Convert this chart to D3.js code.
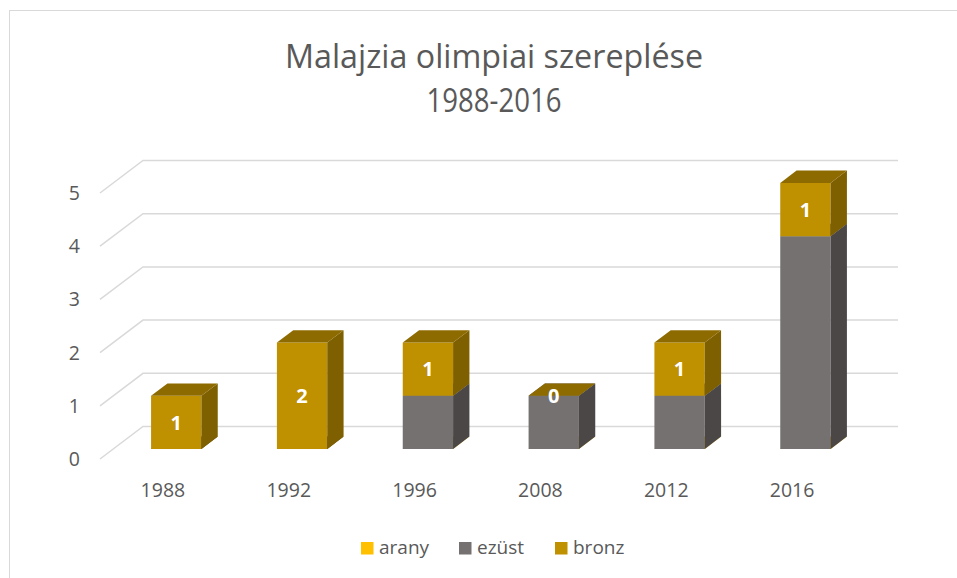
<!DOCTYPE html>
<html>
<head>
<meta charset="utf-8">
<script src="https://cdn.jsdelivr.net/npm/d3@7"></script>
<style>
  body { margin: 0; background: #fff; }
  text { font-family: "Open Sans", sans-serif; }
</style>
</head>
<body>
<svg id="chart" width="957" height="578"></svg>
<script>
// chart data
const years = ['1988', '1992', '1996', '2008', '2012', '2016'];
const seriesNames = ['arany', 'ezüst', 'bronz'];
const arany = [0, 0, 0, 0, 0, 0];
const ezust = [0, 0, 1, 1, 1, 4];
const bronz = [1, 2, 1, 0, 1, 1];
const yTicks = [0, 1, 2, 3, 4, 5];

// face colours per series: front, side, top
const faces = {
    arany: ['#FFC000', '#BF9000', '#D9A300'],
    'ezüst': ['#767171', '#4B4747', '#5C5858'],
    bronz: ['#BF9000', '#7F6000', '#8E6B00']
};

const svg = d3.select('#chart');

// outer frame
svg.append('rect')
    .attr('x', 9.5).attr('y', 10.5)
    .attr('width', 960).attr('height', 580)
    .attr('fill', 'none')
    .attr('stroke', '#d9d9d9');

// title
svg.append('text')
    .attr('x', 494).attr('y', 68)
    .attr('text-anchor', 'middle')
    .attr('font-size', 32)
    .attr('fill', '#595959')
    .attr('textLength', 418).attr('lengthAdjust', 'spacingAndGlyphs')
    .text('Malajzia olimpiai szereplése');
svg.append('text')
    .attr('x', 494).attr('y', 112)
    .attr('text-anchor', 'middle')
    .attr('font-size', 32)
    .attr('fill', '#595959')
    .attr('textLength', 135).attr('lengthAdjust', 'spacingAndGlyphs')
    .text('1988-2016');

// simple oblique projection: z goes 0 (front) -> 1 (back wall)
const DX = 43, DY = 32.5;
const x = d3.scaleBand().domain(years).range([100, 855])
    .paddingInner(0.6).paddingOuter(0.3);
const y = d3.scaleLinear().domain([0, 5]).range([459, 193]);
const proj = (px, v, z) => [px + z * DX, y(v) - z * DY];
const z0 = 0.31, z1 = 0.69;

// gridlines: floor diagonal + back wall
const grid = svg.append('g');
yTicks.forEach(v => {
    const a = proj(100, v, 0), b = proj(100, v, 1), c = proj(855, v, 1);
    grid.append('polyline')
        .attr('points', [a, b, c].map(p => p.join(',')).join(' '))
        .attr('fill', 'none')
        .attr('stroke', '#d9d9d9')
        .attr('stroke-width', 1.5);
});

// y labels
svg.append('g').selectAll('text')
    .data(yTicks)
    .enter()
    .append('text')
        .attr('x', 80)
        .attr('y', d => y(d))
        .attr('dy', '0.36em')
        .attr('text-anchor', 'end')
        .attr('font-size', 19.5)
        .attr('fill', '#595959')
        .text(d => d);

// x labels
svg.append('g').selectAll('text')
    .data(years)
    .enter()
    .append('text')
        .attr('x', d => x(d) + x.bandwidth() / 2)
        .attr('y', 497)
        .attr('text-anchor', 'middle')
        .attr('font-size', 19.5)
        .attr('fill', '#595959')
        .text(d => d);

// stacked 3D bars
const table = years.map((yr, i) => ({ year: yr, arany: arany[i], 'ezüst': ezust[i], bronz: bronz[i] }));
const stack = d3.stack().keys(seriesNames)(table);
const pts = arr => arr.map(p => p.join(',')).join(' ');

const bars = svg.append('g');
years.forEach((yr, i) => {
    const xl = x(yr), xr = x(yr) + x.bandwidth();
    stack.forEach(layer => {
        const lo = layer[i][0], hi = layer[i][1];
        const c = faces[layer.key];
        const g = bars.append('g');
        // front
        g.append('polygon')
            .attr('points', pts([proj(xl, lo, z0), proj(xr, lo, z0), proj(xr, hi, z0), proj(xl, hi, z0)]))
            .attr('fill', c[0]);
        // side
        g.append('polygon')
            .attr('points', pts([proj(xr, lo, z0), proj(xr, lo, z1), proj(xr, hi, z1), proj(xr, hi, z0)]))
            .attr('fill', c[1]);
        // top
        g.append('polygon')
            .attr('points', pts([proj(xl, hi, z0), proj(xr, hi, z0), proj(xr, hi, z1), proj(xl, hi, z1)]))
            .attr('fill', c[2]);
    });
});

// data labels for bronz
const bronzLayer = stack[2];
svg.append('g').selectAll('text')
    .data(bronzLayer)
    .enter()
    .append('text')
        .attr('x', (d, i) => proj(x(years[i]) + x.bandwidth() / 2, 0, z0)[0])
        .attr('y', d => proj(0, (d[0] + d[1]) / 2, z0)[1])
        .attr('dy', '0.36em')
        .attr('text-anchor', 'middle')
        .attr('font-size', 20)
        .attr('font-weight', 'bold')
        .attr('fill', '#ffffff')
        .text(d => d[1] - d[0]);

// legend
const legendX = [361, 459, 555];
const legend = svg.append('g');
seriesNames.forEach((s, i) => {
    legend.append('rect')
        .attr('x', legendX[i]).attr('y', 542)
        .attr('width', 12.5).attr('height', 12.5)
        .attr('fill', faces[s][0]);
    legend.append('text')
        .attr('x', legendX[i] + 18).attr('y', 554)
        .attr('font-size', 19)
        .attr('fill', '#595959')
        .text(s);
});
</script>
</body>
</html>
